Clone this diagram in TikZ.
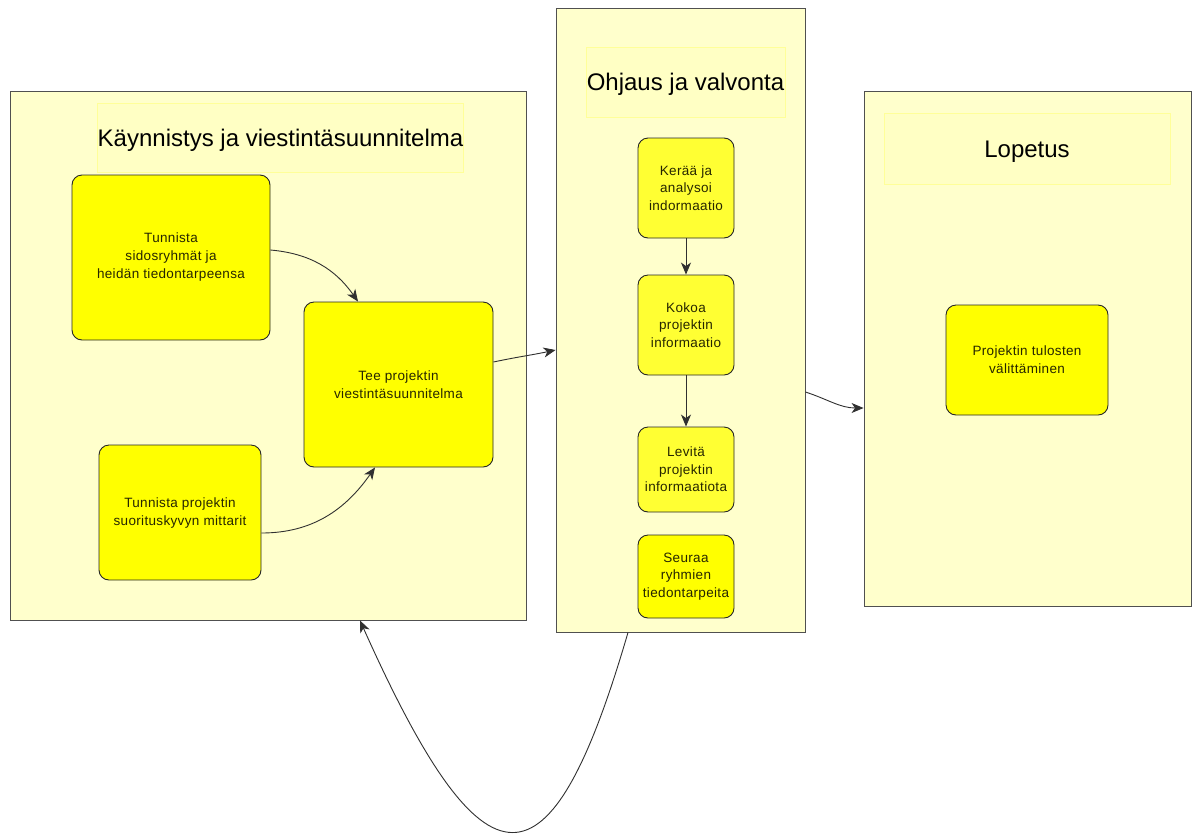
\documentclass[tikz,border=0pt]{standalone}
\usepackage{fontspec}
\setmainfont{Liberation Sans}
\newfontfamily\nodefont[LetterSpace=2.5]{Liberation Sans}
\usetikzlibrary{arrows.meta,calc}
\definecolor{panelfill}{HTML}{FFFFCC}
\definecolor{panelline}{HTML}{505050}
\definecolor{titlefill}{HTML}{FFFFC4}
\definecolor{titleline}{HTML}{FFFF99}
\definecolor{stepfill}{HTML}{FFFF00}
\definecolor{steplight}{HTML}{FFFF33}
\definecolor{steptext}{HTML}{262600}
\definecolor{conn}{HTML}{303030}
\tikzset{
  panel/.style={draw=panelline, fill=panelfill, line width=0.9pt, rectangle, inner sep=0pt},
  titlebox/.style={draw=titleline, fill=titlefill, line width=0.6pt, rectangle, inner sep=0pt,
    font=\fontsize{24}{28}\selectfont, text=black, text height=17pt, text depth=0pt},
  stepbox/.style={draw=black!85, fill=stepfill, line width=0.9pt, rectangle, rounded corners=10pt,
    inner sep=0pt, align=center, text=steptext, font=\nodefont\fontsize{13.5}{18}\selectfont},
  smallstep/.style={stepbox, fill=steplight, font=\nodefont\fontsize{13.5}{17.5}\selectfont},
  conn/.style={draw=conn, line width=0.9pt, -{Stealth[length=12pt,width=10pt,inset=3.5pt]}}
}
\begin{document}
\begin{tikzpicture}[x=1pt,y=-1pt]
\useasboundingbox[fill=white] (0,0) rectangle (1198,833);

% panels
\node[panel, minimum width=516, minimum height=529] (P1) at (268,355.5) {};
\node[panel, minimum width=249, minimum height=624] (P2) at (680.5,320) {};
\node[panel, minimum width=327, minimum height=515] (P3) at (1027.5,348.5) {};

% titles
\node[titlebox, minimum width=363, minimum height=69] (T1) at (280.5,137.5) {Käynnistys ja viestintäsuunnitelma};
\node[titlebox, minimum width=199, minimum height=70] (T2) at (685.5,82) {Ohjaus ja valvonta};
\node[titlebox, minimum width=286, minimum height=71] (T3) at (1027,148.5) {Lopetus};

% left steps
\node[stepbox, minimum width=198, minimum height=165] (A) at (171,257.5) {Tunnista\\sidosryhmät ja\\heidän tiedontarpeensa};
\node[stepbox, minimum width=189, minimum height=165] (B) at (398.5,384.5) {Tee projektin\\viestintäsuunnitelma};
\node[stepbox, minimum width=162, minimum height=135] (C) at (180,512.5) {Tunnista projektin\\suorituskyvyn mittarit};

% middle steps
\node[smallstep, minimum width=96, minimum height=100] (D) at (686,188) {Kerää ja\\analysoi\\indormaatio};
\node[smallstep, minimum width=96, minimum height=100] (E) at (686,325) {Kokoa\\projektin\\informaatio};
\node[smallstep, minimum width=96, minimum height=85] (F) at (686,469.5) {Levitä\\projektin\\informaatiota};
\node[stepbox, font=\nodefont\fontsize{13.5}{17.5}\selectfont, minimum width=96, minimum height=83] (G) at (686,576.5) {Seuraa\\ryhmien\\tiedontarpeita};

% right step
\node[stepbox, minimum width=162, minimum height=110] (H) at (1027,360) {Projektin tulosten\\välittäminen};

% connectors
\draw[conn] ([yshift=7.5]A.east) to[out=-5,in=125] ([xshift=-40.5]B.north);
\draw[conn] ([yshift=-20.5]C.east) to[out=0,in=-125] ([xshift=-23.5]B.south);
\draw[conn] ([yshift=22.5]B.east) to[out=12,in=192] ([yshift=-30]P2.west);
\draw[conn] (D) -- (E);
\draw[conn] (E) -- (F);
\draw[conn] ([yshift=-72]P2.east) to[out=-18,in=180] ([yshift=-59.5]P3.west);
\draw[conn] ([xshift=-52.5]P2.south) .. controls (550,900) and (485,900) .. ([xshift=92]P1.south);
\end{tikzpicture}
\end{document}
